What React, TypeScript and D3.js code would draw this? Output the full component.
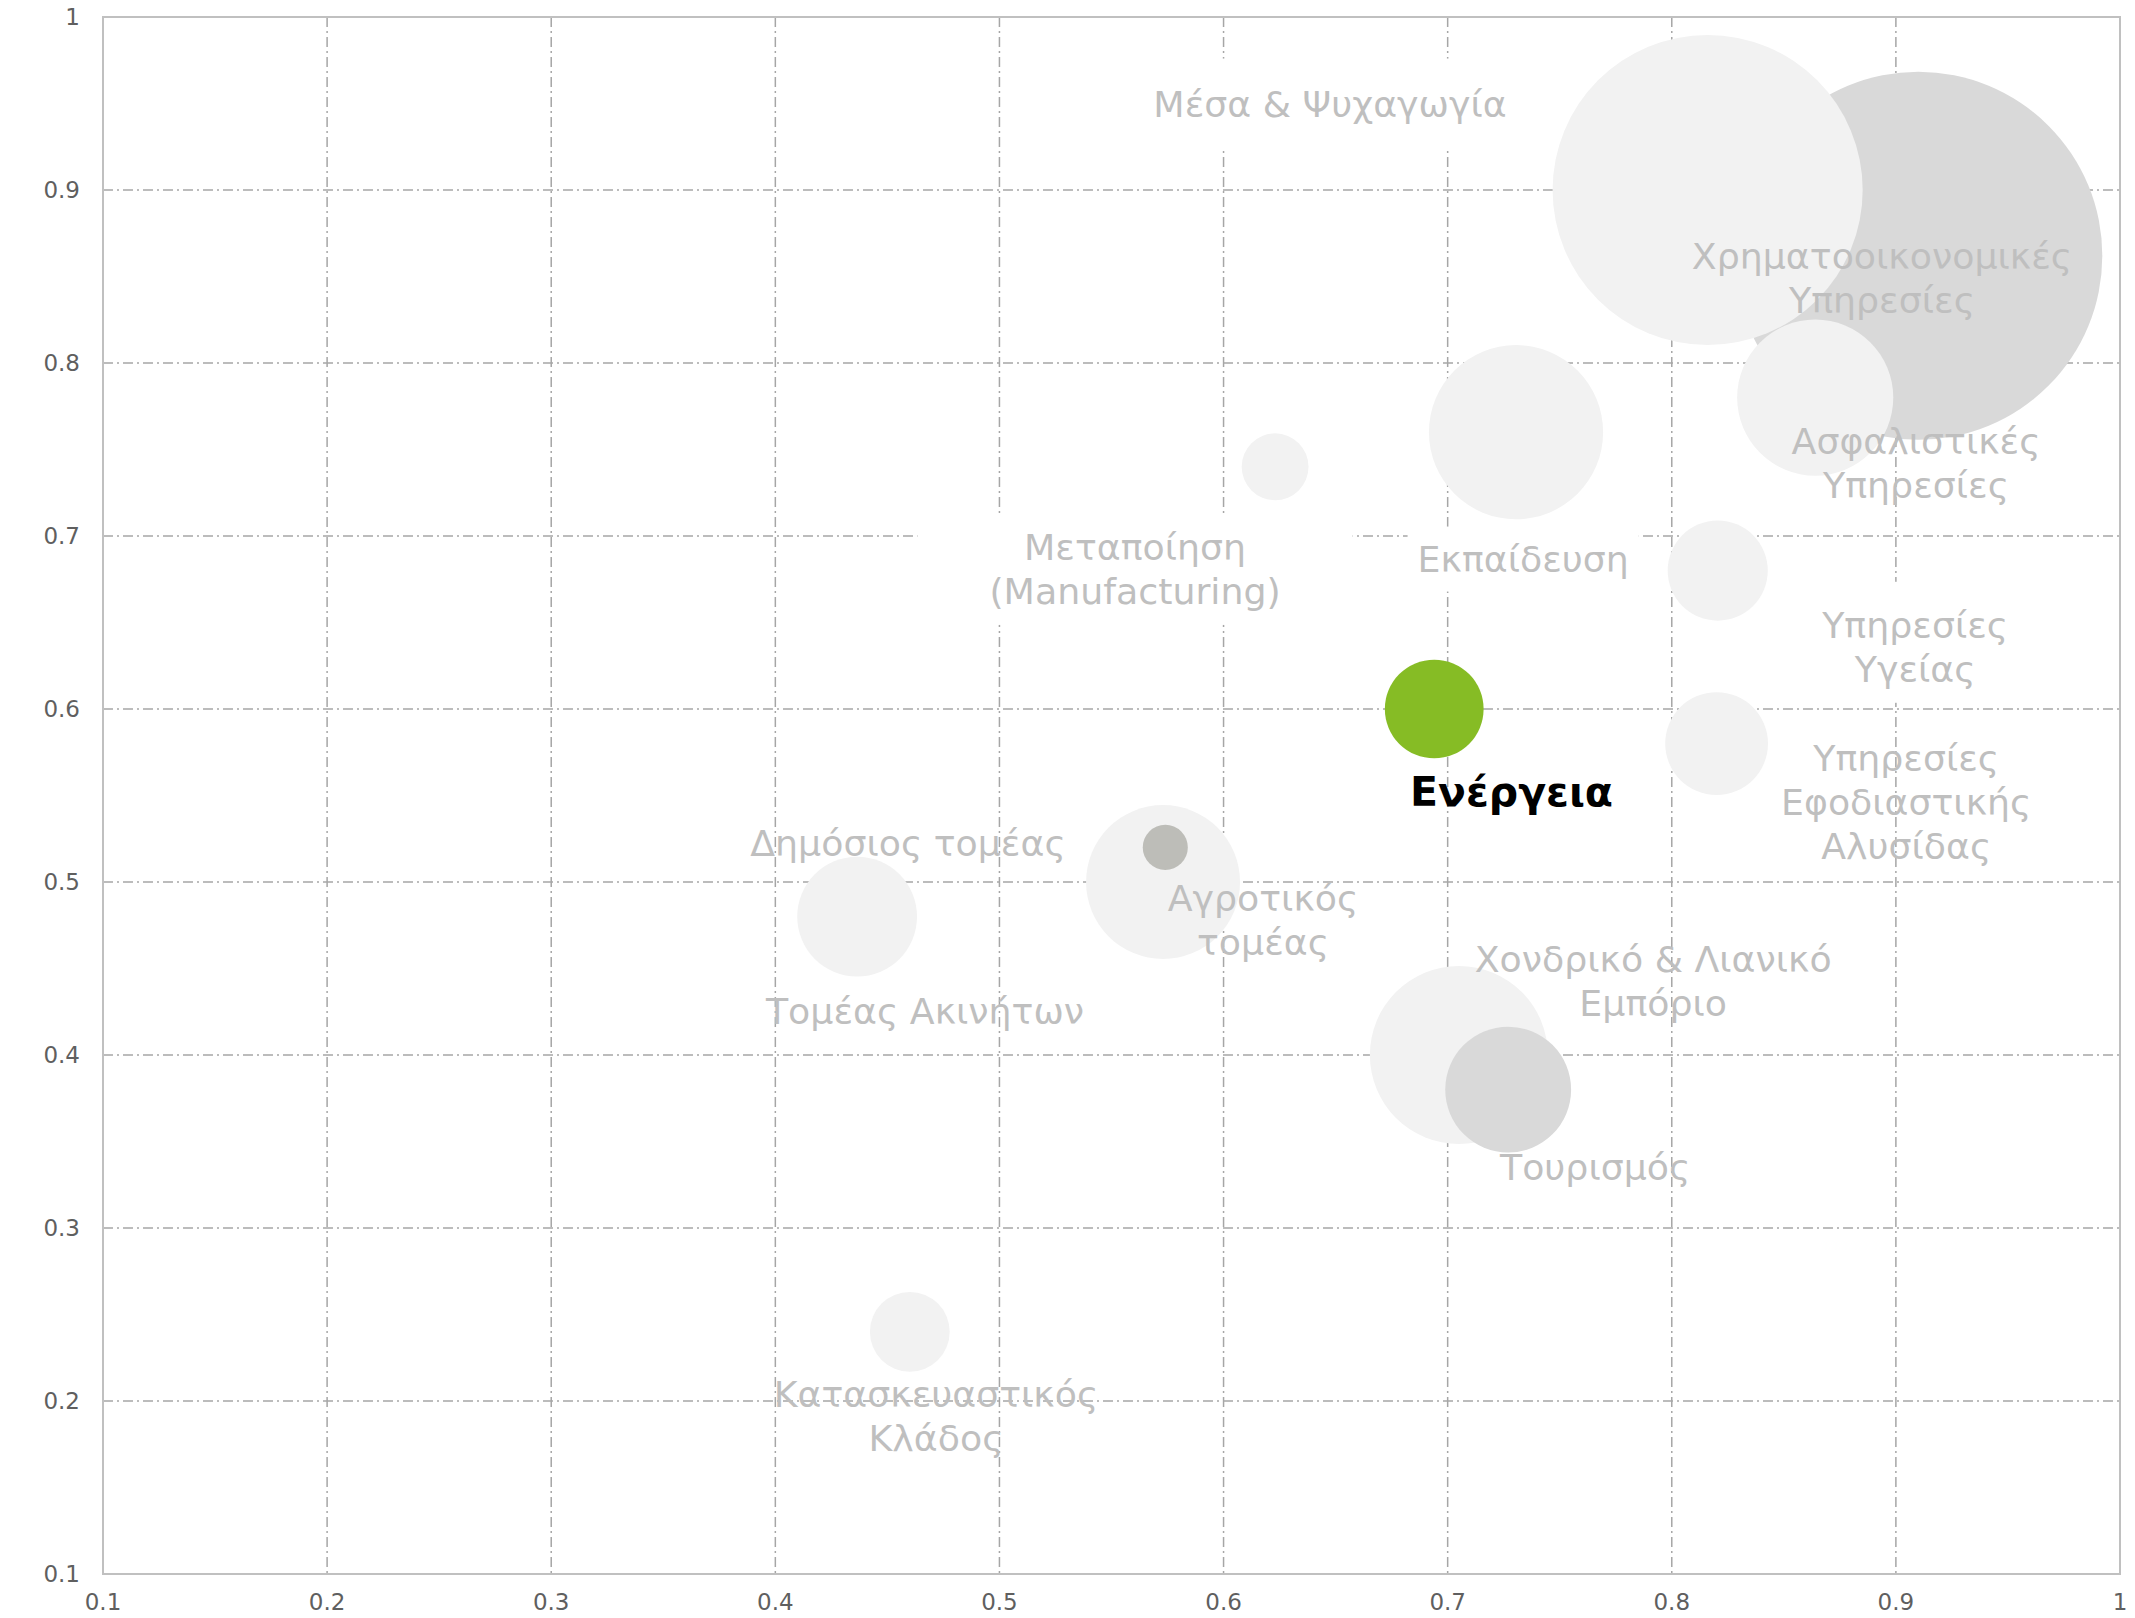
import React, { useEffect, useRef } from "react";
import * as d3 from "d3";

// bubbles, in drawing order (later ones sit on top)
const bubbleX = [0.91, 0.816, 0.864, 0.7305, 0.623, 0.8205, 0.82, 0.694, 0.573, 0.574, 0.4365, 0.705, 0.727, 0.46];
const bubbleY = [0.862, 0.9, 0.78, 0.76, 0.74, 0.68, 0.58, 0.6, 0.5, 0.52, 0.48, 0.4, 0.38, 0.24];
const bubbleSize = [100, 71, 18, 22.4, 3.3, 7.4, 7.8, 7.2, 17.5, 1.5, 10.6, 23.4, 11.7, 4.7];
const bubbleTone = ["dark", "light", "light", "light", "light", "light", "light", "accent", "light", "mid", "light", "light", "dark", "light"];

// sector labels, anchored in data units (block centre)
const labelText = [
  "Μέσα & Ψυχαγωγία",
  "Χρηματοοικονομικές\nΥπηρεσίες",
  "Ασφαλιστικές\nΥπηρεσίες",
  "Μεταποίηση\n(Manufacturing)",
  "Εκπαίδευση",
  "Υπηρεσίες\nΥγείας",
  "Ενέργεια",
  "Υπηρεσίες\nΕφοδιαστικής\nΑλυσίδας",
  "Δημόσιος τομέας",
  "Αγροτικός\nτομέας",
  "Τομέας Ακινήτων",
  "Χονδρικό & Λιανικό\nΕμπόριο",
  "Τουρισμός",
  "Κατασκευαστικός\nΚλάδος",
];
const labelX = [0.6475, 0.8938, 0.909, 0.5605, 0.7337, 0.9086, 0.7285, 0.9046, 0.4592, 0.6176, 0.4668, 0.7917, 0.7658, 0.4717];
const labelY = [0.95, 0.849, 0.742, 0.681, 0.687, 0.636, 0.5523, 0.5463, 0.5225, 0.478, 0.4254, 0.4428, 0.3353, 0.1916];

const highlighted = "Ενέργεια";
const xTicks = [0.1, 0.2, 0.3, 0.4, 0.5, 0.6, 0.7, 0.8, 0.9, 1];
const yTicks = [0.1, 0.2, 0.3, 0.4, 0.5, 0.6, 0.7, 0.8, 0.9, 1];

const toneColor = { light: "#f2f2f2", dark: "#d9d9d9", mid: "#bdbdb8", accent: "#86bc25" };
// labels that knock out the grid behind them: [padX, padTop, padBottom]
const boxPad = {
  "Μέσα & Ψυχαγωγία": [16, 24, 24],
  "Μεταποίηση\n(Manufacturing)": [72, 12, 12],
  "Εκπαίδευση": [10, 11, 11],
  "Υπηρεσίες\nΥγείας": [14, 22, 12],
};

const WIDTH = 2135;
const HEIGHT = 1618;
const FONT = "Verdana, 'DejaVu Sans', sans-serif";

const App = () => {
  const ref = useRef(null);

  useEffect(() => {
    const margin = { top: 17, right: 15, bottom: 44, left: 103 };
    const svg = d3.select(ref.current);
    svg.selectAll("*").remove();

    const x = d3.scaleLinear().domain([0.1, 1]).range([margin.left, WIDTH - margin.right]);
    const y = d3.scaleLinear().domain([0.1, 1]).range([HEIGHT - margin.bottom, margin.top]);
    const r = d3.scaleSqrt().domain([0, d3.max(bubbleSize)]).range([0, 184]);

    // grid
    const grid = svg.append("g")
      .attr("stroke", "#a6a6a6")
      .attr("stroke-width", 1.5)
      .attr("stroke-dasharray", "10,4,2,4");
    grid.selectAll("line.v")
      .data(xTicks.filter(d => d > 0.1 && d < 1))
      .enter().append("line")
      .attr("x1", d => x(d)).attr("x2", d => x(d))
      .attr("y1", y(1)).attr("y2", y(0.1));
    grid.selectAll("line.h")
      .data(yTicks.filter(d => d > 0.1 && d < 1))
      .enter().append("line")
      .attr("x1", x(0.1)).attr("x2", x(1))
      .attr("y1", d => y(d)).attr("y2", d => y(d));

    svg.append("rect")
      .attr("x", x(0.1)).attr("y", y(1))
      .attr("width", x(1) - x(0.1)).attr("height", y(0.1) - y(1))
      .attr("fill", "none")
      .attr("stroke", "#c0c0c0")
      .attr("stroke-width", 2);

    // tick labels
    const fmt = d => String(+d.toFixed(1));
    svg.append("g").selectAll("text")
      .data(yTicks)
      .enter().append("text")
      .attr("x", x(0.1) - 23)
      .attr("y", d => y(d))
      .attr("dy", "0.36em")
      .attr("text-anchor", "end")
      .attr("font-family", FONT)
      .attr("font-size", 23)
      .attr("fill", "#5f5f5f")
      .text(fmt);
    svg.append("g").selectAll("text")
      .data(xTicks)
      .enter().append("text")
      .attr("x", d => x(d))
      .attr("y", y(0.1) + 28)
      .attr("dy", "0.36em")
      .attr("text-anchor", "middle")
      .attr("font-family", FONT)
      .attr("font-size", 23)
      .attr("fill", "#5f5f5f")
      .text(fmt);

    const boxLayer = svg.append("g");

    // bubbles
    const bubbles = bubbleX.map((bx, i) => ({ x: bx, y: bubbleY[i], size: bubbleSize[i], tone: bubbleTone[i] }));
    svg.append("g").selectAll("circle")
      .data(bubbles)
      .enter().append("circle")
      .attr("cx", d => x(d.x))
      .attr("cy", d => y(d.y))
      .attr("r", d => r(d.size))
      .attr("fill", d => toneColor[d.tone]);

    // labels
    const lineH = 44;
    const labels = labelText.map((t, i) => ({ text: t, x: labelX[i], y: labelY[i] }));
    const labelSel = svg.append("g").selectAll("text")
      .data(labels)
      .enter().append("text")
      .attr("text-anchor", "middle")
      .attr("font-family", FONT)
      .attr("font-size", d => (d.text === highlighted ? 41 : 36.3))
      .attr("font-weight", d => (d.text === highlighted ? "bold" : "normal"))
      .attr("fill", d => (d.text === highlighted ? "#000000" : "#bfbfbf"));
    labelSel.each(function (d) {
      const lines = d.text.split("\n");
      const cx = x(d.x);
      const cy = y(d.y);
      d3.select(this).selectAll("tspan")
        .data(lines)
        .enter().append("tspan")
        .attr("x", cx)
        .attr("y", (_, i) => cy + (i - (lines.length - 1) / 2) * lineH)
        .attr("dy", "0.36em")
        .text(l => l);
    });

    // white knock-out boxes behind some labels
    labelSel.each(function (d) {
      const pad = boxPad[d.text];
      if (!pad) return;
      const bb = this.getBBox();
      boxLayer.append("rect")
        .attr("x", bb.x - pad[0])
        .attr("y", bb.y - pad[1])
        .attr("width", bb.width + pad[0] * 2)
        .attr("height", bb.height + pad[1] + pad[2])
        .attr("fill", "#ffffff");
    });
  }, []);

  return (
    <svg
      ref={ref}
      width={WIDTH}
      height={HEIGHT}
      style={{ position: "absolute", left: 0, top: 0, background: "#ffffff" }}
    ></svg>
  );
};

export default App;
